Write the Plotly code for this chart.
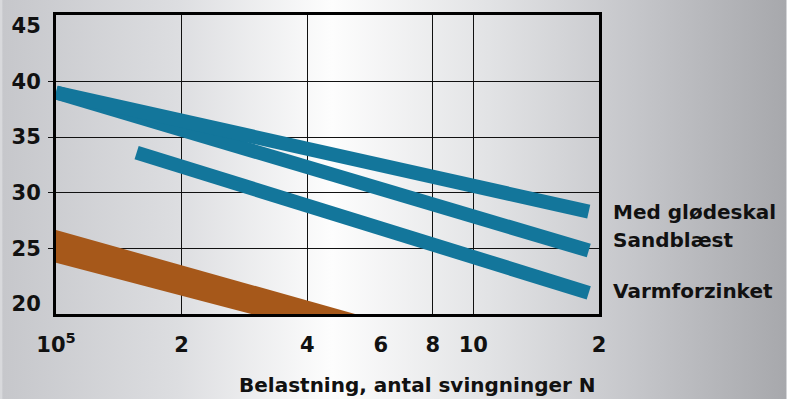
import base64
import plotly.graph_objects as go

# ---- data ----
x_tick_values = [1e5, 2e5, 4e5, 6e5, 8e5, 1e6, 2e6]
x_tick_labels = ["10<sup>5</sup>", "2", "4", "6", "8", "10", "2"]
x_grid_values = [2e5, 4e5, 8e5, 1e6]
y_tick_values = [20, 25, 30, 35, 40, 45]
y_grid_values = [25, 30, 35, 40]

cycles_glodeskal = [1.0e5, 1.89e6]
stress_glodeskal = [39.0, 28.3]
cycles_sandblaest = [1.0e5, 1.89e6]
stress_sandblaest = [39.0, 24.8]
cycles_varmforzinket = [1.56e5, 1.89e6]
stress_varmforzinket = [33.6, 21.0]

cycles_band = [1.0e5, 6.0e5]
band_upper = [26.65, 18.45]
band_lower = [23.7, 16.05]

series_names = ["Med glødeskal", "Sandblæst", "Varmforzinket"]
label_y = [28.3, 25.75, 21.15]

BLUE = "#13769b"
BROWN = "#a6581a"
FONT = "DejaVu Sans"

# ---- background gradient as an inline SVG image ----
svg = (
    '<svg xmlns="http://www.w3.org/2000/svg" width="787" height="399" preserveAspectRatio="none">'
    '<defs><linearGradient id="g" x1="0" x2="1" y1="0" y2="0">'
    '<stop offset="0" stop-color="#c6c7cb"/>'
    '<stop offset="0.22" stop-color="#dcdde0"/>'
    '<stop offset="0.42" stop-color="#fdfdfd"/>'
    '<stop offset="0.62" stop-color="#e2e3e5"/>'
    '<stop offset="0.80" stop-color="#c6c7cb"/>'
    '<stop offset="1" stop-color="#a7a8ac"/>'
    '</linearGradient></defs>'
    '<rect width="787" height="399" fill="url(#g)"/></svg>'
)
bg_src = "data:image/svg+xml;base64," + base64.b64encode(svg.encode()).decode()

fig = go.Figure()

fig.add_trace(go.Scatter(x=cycles_band, y=band_lower, mode="lines",
                         line=dict(width=0, color=BROWN), showlegend=False, hoverinfo="skip"))
fig.add_trace(go.Scatter(x=cycles_band, y=band_upper, mode="lines", fill="tonexty",
                         fillcolor=BROWN, line=dict(width=0, color=BROWN), showlegend=False))

for xs, ys, name in [
    (cycles_varmforzinket, stress_varmforzinket, series_names[2]),
    (cycles_sandblaest, stress_sandblaest, series_names[1]),
    (cycles_glodeskal, stress_glodeskal, series_names[0]),
]:
    fig.add_trace(go.Scatter(x=xs, y=ys, mode="lines", name=name,
                             line=dict(width=14, color=BLUE), showlegend=False))

annotations = [
    dict(text=n, x=1.022, xref="paper", y=yv, yref="y", xanchor="left", yanchor="middle",
         showarrow=False, font=dict(family=FONT, size=20, color="#111", weight="bold"))
    for n, yv in zip(series_names, label_y)
]
annotations.append(dict(text="Belastning, antal svingninger N", x=0.666, xref="paper",
                        y=-0.2375, yref="paper", xanchor="center", yanchor="middle",
                        showarrow=False,
                        font=dict(family=FONT, size=20, color="#111", weight="bold")))

fig.update_layout(
    width=787, height=399,
    margin=dict(l=54, r=188, t=15, b=85),
    paper_bgcolor="#d8d9dc",
    plot_bgcolor="rgba(0,0,0,0)",
    showlegend=False,
    annotations=annotations,
    images=[dict(source=bg_src, xref="paper", yref="paper", x=-54 / 545, y=1 + 15 / 299,
                 sizex=787 / 545, sizey=399 / 299, xanchor="left", yanchor="top",
                 sizing="stretch", layer="below")],
    xaxis=dict(
        type="log", range=[5, 6.30103], tickmode="array",
        tickvals=x_tick_values, ticktext=x_tick_labels, ticks="",
        showgrid=False, zeroline=False,
        showline=True, linecolor="#000", linewidth=3, mirror=True,
        tickfont=dict(family=FONT, size=21, color="#111", weight="bold"),
        ticklabelstandoff=10,
        minor=dict(tickmode="array", tickvals=x_grid_values, showgrid=True,
                   gridcolor="#111", gridwidth=1.3, ticks=""),
    ),
    yaxis=dict(
        range=[19.1, 45.97], tickmode="array", tickvals=y_tick_values, ticks="",
        showgrid=False, zeroline=False,
        showline=True, linecolor="#000", linewidth=3, mirror=True,
        tickfont=dict(family=FONT, size=21, color="#111", weight="bold"),
        ticklabelstandoff=8,
        minor=dict(tickmode="array", tickvals=y_grid_values, showgrid=True,
                   gridcolor="#111", gridwidth=1.3, ticks="outside", ticklen=5,
                   tickcolor="#111", tickwidth=1.3),
    ),
)

fig.write_html(
    "out.html",
    config={"displayModeBar": False},
    post_script="document.body.style.margin='0';document.body.style.padding='0';",
)
